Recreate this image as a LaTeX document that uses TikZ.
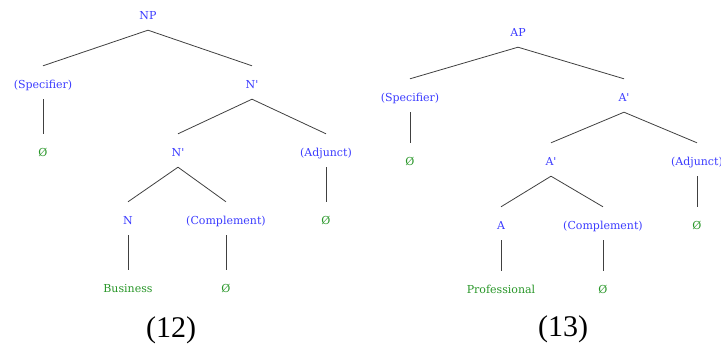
\documentclass[tikz,border=0pt]{standalone}
\usepackage{fontspec}
\setmainfont{DejaVu Serif}
\newfontfamily\numfont{Liberation Serif}
\definecolor{catblue}{RGB}{60,60,255}
\definecolor{wordgreen}{RGB}{40,150,40}
\newcommand{\barlevel}{\textquotesingle}

\begin{document}
\begin{tikzpicture}[x=1pt,y=-1pt,
    cat/.style={text=catblue,font=\fontsize{11}{13}\selectfont,anchor=base,
        text height=23pt,text depth=10pt,inner sep=0pt},
    word/.style={cat,text=wordgreen},
    number/.style={font=\numfont\fontsize{30}{32}\selectfont},
    branch/.style={draw=black!75,line width=0.8pt}]
    \useasboundingbox (0,0) rectangle (721,344);

    % (12) noun phrase
    \node (np) at (148,20) [cat] {NP};
    \node (a) at (43,89) [cat] {(Specifier)};
    \node (b) at (252,89) [cat] {N\barlevel};
    \node (c) at (43,157) [word] {Ø};
    \node (d) at (178,157) [cat] {N\barlevel};
    \node (e) at (326,157) [cat] {(Adjunct)};
    \node (f) at (128,225) [cat] {N};
    \node (g) at (226,225) [cat] {(Complement)};
    \node (h) at (326,225) [word] {Ø};
    \node (i) at (128,293) [word] {Business};
    \node (j) at (226,293) [word] {Ø};
    \node (k) at (171,330) [number] {(12)};

    \draw[branch] (np.south) -- (a.north);
    \draw[branch] (np.south) -- (b.north);
    \draw[branch] (a.south) -- (c.north);
    \draw[branch] (b.south) -- (d.north);
    \draw[branch] (b.south) -- (e.north);
    \draw[branch] (d.south) -- (f.north);
    \draw[branch] (d.south) -- (g.north);
    \draw[branch] (e.south) -- (h.north);
    \draw[branch] (f.south) -- (i.north);
    \draw[branch] (g.south) -- (j.north);

    % (13) adjective phrase
    \node (ap) at (518,37) [cat] {AP};
    \node (l) at (410,102) [cat] {(Specifier)};
    \node (m) at (624,102) [cat] {A\barlevel};
    \node (n) at (410,166) [word] {Ø};
    \node (o) at (551,166) [cat] {A\barlevel};
    \node (p) at (697,166) [cat] {(Adjunct)};
    \node (q) at (501,230) [cat] {A};
    \node (r) at (603,230) [cat] {(Complement)};
    \node (s) at (697,230) [word] {Ø};
    \node (t) at (501,294) [word] {Professional};
    \node (u) at (603,294) [word] {Ø};
    \node (v) at (563,329) [number] {(13)};

    \draw[branch] (ap.south) -- (l.north);
    \draw[branch] (ap.south) -- (m.north);
    \draw[branch] (l.south) -- (n.north);
    \draw[branch] (m.south) -- (o.north);
    \draw[branch] (m.south) -- (p.north);
    \draw[branch] (o.south) -- (q.north);
    \draw[branch] (o.south) -- (r.north);
    \draw[branch] (p.south) -- (s.north);
    \draw[branch] (q.south) -- (t.north);
    \draw[branch] (r.south) -- (u.north);
\end{tikzpicture}
\end{document}
